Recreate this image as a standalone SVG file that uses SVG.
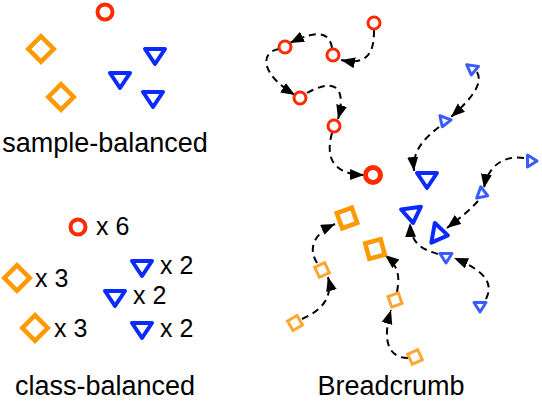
<svg xmlns="http://www.w3.org/2000/svg" width="542" height="402" viewBox="0 0 542 402">
<defs>
<style>
.lbl{font-family:"Liberation Sans",Arial,sans-serif;font-size:27px;fill:#000}
.cnt{font-family:"Liberation Sans",Arial,sans-serif;font-size:25px;fill:#000}
.circ{fill:none;stroke:#ff2a00;stroke-width:4}
.circs{fill:none;stroke:#ff2a00;stroke-width:3}
.dia{fill:none;stroke:#ff9900;stroke-width:4.5;stroke-linejoin:miter}
.sq{fill:none;stroke:#ff9900;stroke-width:4.5}
.sqs{fill:none;stroke:#ffa633;stroke-width:3}
.tri{fill:none;stroke:#0a2aff;stroke-width:4;stroke-linejoin:round}
.tris{fill:none;stroke:#3a5cff;stroke-width:3;stroke-linejoin:round}
.path{fill:none;stroke:#000;stroke-width:2;stroke-dasharray:7 5;marker-end:url(#ah)}
</style>
<marker id="ah" markerUnits="userSpaceOnUse" markerWidth="16" markerHeight="13" refX="14" refY="5.5" orient="auto">
<path d="M0,0 L14,5.5 L0,11 z" fill="#000"/>
</marker>
<polygon id="T" points="-10,-7 10,-7 0,8"/>
<polygon id="t" points="-6,-4.5 6,-4.5 0,5"/>
<rect id="D" x="-9" y="-9" width="18" height="18" transform="rotate(45)"/>
<rect id="S" x="-8" y="-8" width="16" height="16"/>
<rect id="s" x="-5.5" y="-5.5" width="11" height="11"/>
</defs>

<g id="sample-balanced">
<circle class="circ" cx="105" cy="12" r="7.5"/>
<use href="#D" class="dia" x="41" y="49"/>
<use href="#D" class="dia" x="61" y="97"/>
<use href="#T" class="tri" x="155" y="56"/>
<use href="#T" class="tri" x="120" y="80"/>
<use href="#T" class="tri" x="153" y="99"/>
<text class="lbl" x="105" y="152" text-anchor="middle">sample-balanced</text>
</g>

<g id="class-balanced">
<circle class="circ" cx="78" cy="227" r="7.5"/>
<text class="cnt" x="96" y="235">x 6</text>
<use href="#D" class="dia" x="17" y="278"/>
<text class="cnt" x="35" y="287">x 3</text>
<use href="#D" class="dia" x="35" y="328"/>
<text class="cnt" x="54" y="337">x 3</text>
<use href="#T" class="tri" x="142" y="268"/>
<text class="cnt" x="160" y="274">x 2</text>
<use href="#T" class="tri" x="115" y="298"/>
<text class="cnt" x="133" y="304">x 2</text>
<use href="#T" class="tri" x="142" y="330"/>
<text class="cnt" x="160" y="337">x 2</text>
<text class="lbl" x="105" y="395" text-anchor="middle">class-balanced</text>
</g>

<g id="connectors">
<path class="path" d="M374,30 C374,50 370,66 341,60"/>
<path class="path" d="M332,48 C330,34 320,28 290,43"/>
<path class="path" d="M279,49 C260,52 260,74 295,95"/>
<path class="path" d="M307,93 C330,80 348,82 338,119"/>
<path class="path" d="M332,133 C326,155 330,174 364,175"/>
<path class="path" d="M477,72 C484,84 470,100 451,117"/>
<path class="path" d="M439,127 C425,138 412,150 414,171"/>
<path class="path" d="M524,158 C505,155 488,165 484,188"/>
<path class="path" d="M478,201 C470,210 460,218 447,228"/>
<path class="path" d="M486,299 C493,285 488,272 454,258"/>
<path class="path" d="M438,254 C425,250 411,246 410,223"/>
<path class="path" d="M302,319 C318,312 334,300 328,277"/>
<path class="path" d="M317,263 C309,250 311,235 335,224"/>
<path class="path" d="M408,358 C388,358 382,340 391,310"/>
<path class="path" d="M397,292 C399,280 401,268 385,255"/>
</g>

<g id="breadcrumb">
<circle class="circs" cx="374" cy="23" r="6"/>
<circle class="circs" cx="285" cy="47" r="6"/>
<circle class="circs" cx="333" cy="55" r="6"/>
<circle class="circs" cx="300" cy="98" r="6"/>
<circle class="circs" cx="334" cy="126" r="6"/>
<circle class="circ" cx="373" cy="175" r="7.5" style="stroke-width:5"/>
<use href="#t" class="tris" transform="translate(472,70) rotate(8)"/>
<use href="#t" class="tris" transform="translate(444,122) rotate(20)"/>
<use href="#T" class="tri" transform="translate(427,180)"/>
<use href="#t" class="tris" transform="translate(532,161) rotate(-90)"/>
<use href="#t" class="tris" transform="translate(483,194) rotate(-70)"/>
<use href="#T" class="tri" transform="translate(412,215) rotate(-8)"/>
<use href="#T" class="tri" transform="translate(440,234) rotate(-80)"/>
<use href="#t" class="tris" transform="translate(446,258)"/>
<use href="#t" class="tris" transform="translate(480,307)"/>
<use href="#s" class="sqs" transform="translate(295,323) rotate(-30)"/>
<use href="#s" class="sqs" transform="translate(322,270) rotate(-25)"/>
<use href="#S" class="sq" transform="translate(347,218) rotate(-20)"/>
<use href="#s" class="sqs" transform="translate(395,300) rotate(-20)"/>
<use href="#s" class="sqs" transform="translate(415,357) rotate(-25)"/>
<use href="#S" class="sq" transform="translate(375,249) rotate(-15)"/>
<text class="lbl" x="391" y="395" text-anchor="middle">Breadcrumb</text>
</g>
</svg>
